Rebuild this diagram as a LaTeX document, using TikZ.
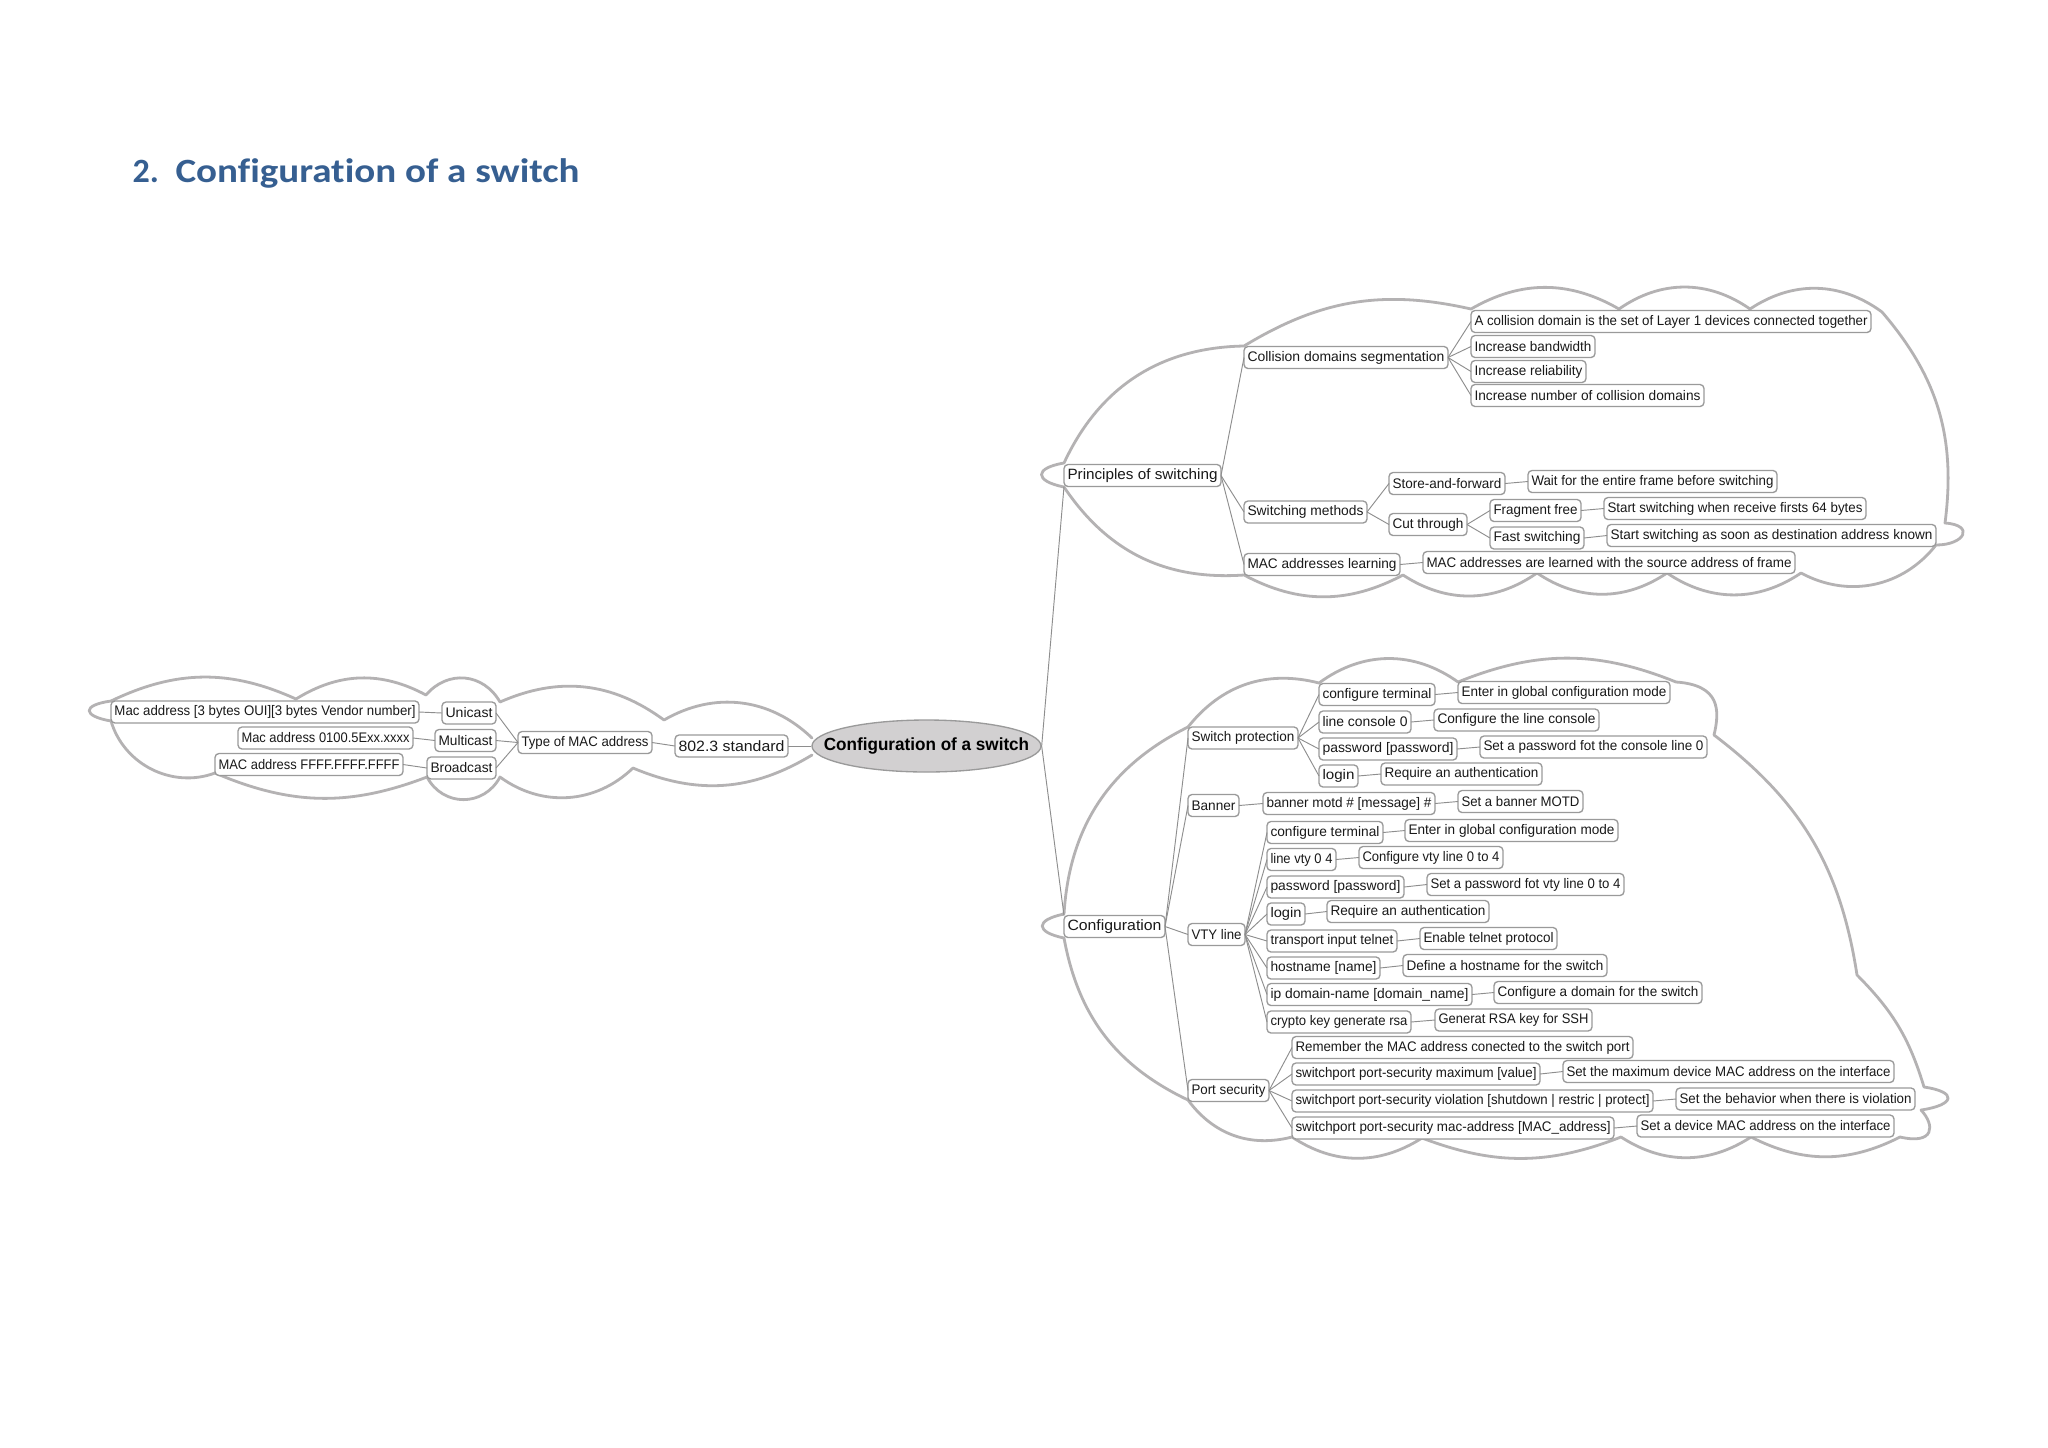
\documentclass[tikz,border=0pt]{standalone}
\usepackage{graphicx}
\usepackage{fontspec}
\setmainfont{Liberation Sans}
\newfontfamily\titlefont[Ligatures=NoCommon]{Carlito}
\usetikzlibrary{shapes.geometric}
\definecolor{cloudgray}{HTML}{B4B2B3}
\definecolor{linegray}{HTML}{8E8E8E}
\definecolor{boxgray}{HTML}{9A9A9A}
\definecolor{rootfill}{HTML}{D2D0D1}
\definecolor{titleblue}{HTML}{365F91}
\newlength{\bxw}\newlength{\bxt}
\newcommand{\bx}[6][5.2]{%
  \pgfmathsetlength{\bxw}{(#4-#3)*0.375pt}%
  \pgfmathsetlength{\bxt}{(#4-#3-7)*0.375pt}%
  \node[mapbox,minimum width=\bxw,minimum height=22*0.375pt] (#2) at ({(#3+#4)/2},{#5+1})
    {\fontsize{#1}{6}\selectfont\resizebox{\bxt}{\height}{#6}};}
\tikzset{
  x=0.375pt,y=-0.375pt,
  mapbox/.style={draw=boxgray,fill=white,line width=0.5pt,rounded corners=1.5pt,inner sep=0pt,outer sep=0pt,text=black!90},
  conn/.style={draw=linegray,line width=0.35pt},
  cloudline/.style={draw=cloudgray,line width=1.05pt,line cap=round,line join=round},
  rootnode/.style={ellipse,draw=boxgray,fill=rootfill,line width=0.5pt,inner sep=0pt,minimum width=229*0.375pt,minimum height=52*0.375pt},
}
\begin{document}
\begin{tikzpicture}
\useasboundingbox[fill=white] (0,0) rectangle (2048,1447);
% title
\node[text=titleblue,anchor=base west,inner sep=0pt,font=\titlefont\bfseries\fontsize{12.75}{15}\selectfont] (titlenum) at (132,182) {2.};
\node[text=titleblue,anchor=base west,inner sep=0pt,font=\titlefont\bfseries\fontsize{12.75}{15}\selectfont] (titletext) at (175,182) {\resizebox{151.5pt}{\height}{Configuration of a switch}};
% clouds
\draw[cloudline] (812,738)
 to[bend right=37] (664,720)
 to[bend right=30] (500,702)
 to[bend right=55,looseness=1.15] (426,695)
 to[bend right=30] (296,699)
 to[bend right=25] (111,701)
 .. controls (82,705) and (82,716) .. (111,721)
 to[bend right=47] (215,773)
 to[bend right=22] (427,777)
 to[bend right=62,looseness=1.2] (500,777)
 to[bend right=40] (633,768)
 to[bend right=27] (812,755);
\draw[cloudline] (1064,463)
 to[bend left=32] (1244,346)
 to[bend left=22] (1471,309)
 to[bend left=30] (1619,309)
 to[bend left=35] (1750,309)
 to[bend left=35] (1882,312)
 to[bend left=24] (1945,523)
 .. controls (1975,525) and (1965,545) .. (1936,545)
 to[bend left=40] (1801,573)
 to[bend left=34] (1667,573)
 to[bend left=34] (1537,573)
 to[bend left=34] (1403,575)
 to[bend left=28] (1244,575)
 to[bend left=30] (1064,487)
 .. controls (1034,481) and (1034,468) .. (1064,463);
\draw[cloudline] (1064,914)
 to[bend left=30] (1188,727)
 to[bend left=33] (1319,683)
 to[bend left=36] (1458,682)
 to[bend left=22] (1676,682)
 .. controls (1720,685) and (1720,710) .. (1714,735)
 to[bend left=22] (1857,975)
 to[bend left=14] (1924,1087)
 .. controls (1958,1092) and (1955,1105) .. (1921,1110)
 .. controls (1935,1125) and (1935,1145) .. (1900,1137)
 to[bend left=27] (1751,1137)
 to[bend left=33] (1621,1137)
 to[bend left=21] (1422,1138)
 to[bend left=33] (1292,1137)
 to[bend left=34] (1188,1100)
 to[bend left=27] (1064,938)
 .. controls (1035,932) and (1035,920) .. (1064,914);
% nodes
\node[rootnode,font=\fontsize{6.6}{8}\selectfont\bfseries] (root) at (926.5,746) {\makebox[0pt]{\resizebox{77pt}{\height}{Configuration of a switch}}};
\bx[5.6]{nstd}{675}{788}{745}{802.3 standard}
\bx{ntype}{518}{652}{741.5}{Type of MAC address}
\bx{nuni}{442}{496}{712}{Unicast}
\bx{nmul}{435}{496}{739.5}{Multicast}
\bx{nbro}{427}{496}{767}{Broadcast}
\bx{nuni1}{111}{419}{711}{Mac address [3 bytes OUI][3 bytes Vendor number]}
\bx{nmul1}{238}{413}{737}{Mac address 0100.5Exx.xxxx}
\bx{nbro1}{215}{403}{763.5}{MAC address FFFF.FFFF.FFFF}
%
\bx[5.6]{pri}{1064}{1221}{474.5}{Principles of switching}
\bx{col}{1244}{1448}{356.5}{Collision domains segmentation}
\bx{col1}{1471}{1871}{320.5}{A collision domain is the set of Layer 1 devices connected together}
\bx{col2}{1471}{1595}{345.5}{Increase bandwidth}
\bx{col3}{1471}{1586}{370.5}{Increase reliability}
\bx{col4}{1471}{1704}{394.5}{Increase number of collision domains}
\bx{swm}{1244}{1367}{511}{Switching methods}
\bx{saf}{1389}{1505}{482.5}{Store-and-forward}
\bx{saf1}{1528}{1777}{480.5}{Wait for the entire frame before switching}
\bx{cut}{1389}{1467}{523.5}{Cut through}
\bx{fra}{1490}{1581}{509.5}{Fragment free}
\bx{fra1}{1604}{1866}{507.5}{Start switching when receive firsts 64 bytes}
\bx{fas}{1490}{1584}{537}{Fast switching}
\bx{fas1}{1607}{1936}{534.5}{Start switching as soon as destination address known}
\bx{mac}{1244}{1400}{563.5}{MAC addresses learning}
\bx{mac1}{1423}{1795}{561.5}{MAC addresses are learned with the source address of frame}
%
\bx[5.6]{cfg}{1064}{1165}{925.5}{Configuration}
\bx{sp}{1188}{1298}{737}{Switch protection}
\bx{sp1}{1319}{1435}{693.5}{configure terminal}
\bx{sp1a}{1458}{1670}{691.5}{Enter in global configuration mode}
\bx{sp2}{1319}{1411}{721}{line console 0}
\bx{sp2a}{1434}{1599}{719}{Configure the line console}
\bx{sp3}{1319}{1457}{748}{password [password]}
\bx{sp3a}{1480}{1707}{746}{Set a password fot the console line 0}
\bx{sp4}{1319}{1358}{775}{login}
\bx{sp4a}{1381}{1542}{773}{Require an authentication}
\bx{ban}{1188}{1239}{804.5}{Banner}
\bx{ban1}{1263}{1435}{802.5}{banner motd \# [message] \#}
\bx{ban1a}{1458}{1583}{800.5}{Set a banner MOTD}
\bx{vty}{1188}{1245}{933.5}{VTY line}
\bx{v1}{1267}{1383}{831.5}{configure terminal}
\bx{v1a}{1405}{1618}{829.5}{Enter in global configuration mode}
\bx{v2}{1267}{1336}{858.5}{line vty 0 4}
\bx{v2a}{1359}{1503}{856.5}{Configure vty line 0 to 4}
\bx{v3}{1267}{1404}{886}{password [password]}
\bx{v3a}{1427}{1624}{883.5}{Set a password fot vty line 0 to 4}
\bx{v4}{1267}{1305}{913}{login}
\bx{v4a}{1327}{1489}{910.5}{Require an authentication}
\bx{v5}{1267}{1397}{940}{transport input telnet}
\bx{v5a}{1420}{1557}{937.5}{Enable telnet protocol}
\bx{v6}{1267}{1380}{967}{hostname [name]}
\bx{v6a}{1403}{1607}{964.5}{Define a hostname for the switch}
\bx{v7}{1267}{1472}{993.5}{ip domain-name [domain\_name]}
\bx{v7a}{1494}{1702}{991.5}{Configure a domain for the switch}
\bx{v8}{1267}{1411}{1021}{crypto key generate rsa}
\bx{v8a}{1435}{1592}{1019}{Generat RSA key for SSH}
\bx{ps}{1188}{1269}{1089.5}{Port security}
\bx{ps1}{1292}{1633}{1046.5}{Remember the MAC address conected to the switch port}
\bx{ps2}{1292}{1540}{1073}{switchport port-security maximum [value]}
\bx{ps2a}{1563}{1894}{1070.5}{Set the maximum device MAC address on the interface}
\bx{ps3}{1292}{1653}{1100}{switchport port-security violation [shutdown | restric | protect]}
\bx{ps3a}{1676}{1915}{1098}{Set the behavior when there is violation}
\bx{ps4}{1292}{1614}{1127}{switchport port-security mac-address [MAC\_address]}
\bx{ps4a}{1637}{1894}{1125}{Set a device MAC address on the interface}
% connectors
\foreach \a/\b in {
 root/nstd,nstd/ntype,ntype/nuni,ntype/nmul,ntype/nbro,nuni/nuni1,nmul/nmul1,nbro/nbro1}
 {\draw[conn] (\a.west) -- (\b.east);}
\foreach \a/\b in {
 pri/col,pri/swm,pri/mac,col/col1,col/col2,col/col3,col/col4,swm/saf,swm/cut,saf/saf1,cut/fra,cut/fas,fra/fra1,fas/fas1,mac/mac1,
 cfg/sp,cfg/ban,cfg/vty,cfg/ps,sp/sp1,sp/sp2,sp/sp3,sp/sp4,sp1/sp1a,sp2/sp2a,sp3/sp3a,sp4/sp4a,ban/ban1,ban1/ban1a,
 vty/v1,vty/v2,vty/v3,vty/v4,vty/v5,vty/v6,vty/v7,vty/v8,v1/v1a,v2/v2a,v3/v3a,v4/v4a,v5/v5a,v6/v6a,v7/v7a,v8/v8a,
 ps/ps1,ps/ps2,ps/ps3,ps/ps4,ps2/ps2a,ps3/ps3a,ps4/ps4a}
 {\draw[conn] (\a.east) -- (\b.west);}
\draw[conn] (root.east) -- (pri.south west);
\draw[conn] (root.east) -- (cfg.north west);
\end{tikzpicture}
\end{document}
